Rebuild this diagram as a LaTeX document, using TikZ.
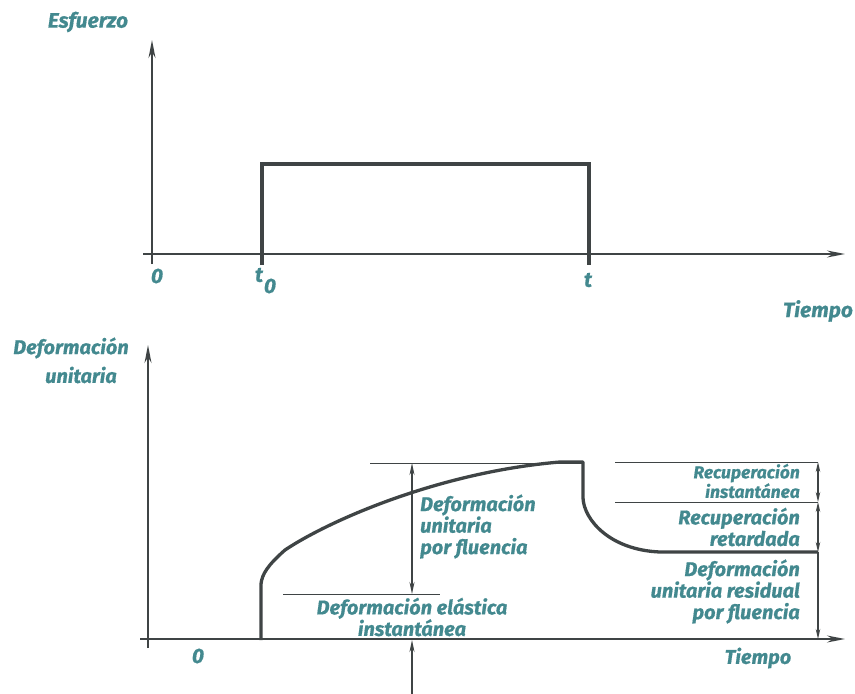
\documentclass[tikz,border=0pt]{standalone}
\usepackage{fontspec}
\setmainfont{Fira Sans}[BoldItalicFeatures={FakeBold=0.6}]
\usetikzlibrary{arrows.meta}
\definecolor{ink}{HTML}{3F4445}
\definecolor{lbl}{HTML}{43898F}
\begin{document}
\begin{tikzpicture}[x=1pt,y=-1pt,
  axisline/.style={ink,line width=1.5pt,-{Stealth[length=18pt,width=7pt]}},
  thinline/.style={ink,line width=1pt},
  curveline/.style={ink,line width=3.3pt,line join=round},
  dimline/.style={ink,line width=1.5pt,{Stealth[length=12pt,width=5pt]}-{Stealth[length=12pt,width=5pt]}},
  dimend/.style={ink,line width=1.5pt,-{Stealth[length=12pt,width=5pt]}},
  txt/.style={text=lbl,font=\fontsize{20}{21.5}\selectfont\bfseries\itshape,inner sep=0pt},
  bigtxt/.style={text=lbl,font=\fontsize{21}{22}\selectfont\bfseries\itshape,inner sep=0pt},
  smalltxt/.style={text=lbl,font=\fontsize{17.5}{18}\selectfont\bfseries\itshape,inner sep=0pt}]
\useasboundingbox (0,0) rectangle (855,694);

% ---- stress vs. time ----
\coordinate (s0) at (152,264);
\coordinate (sy) at (152,40);
\coordinate (sx0) at (143,254);
\coordinate (sx) at (845,254);
\draw[axisline] (s0) -- (sy);
\draw[axisline] (sx0) -- (sx);
\coordinate (p1) at (262,265);
\coordinate (p2) at (262,164);
\coordinate (p3) at (589,164);
\coordinate (p4) at (589,265);
\draw[curveline,line join=miter] (p1) -- (p2) -- (p3) -- (p4);

\node[bigtxt] (lesf) at (88,22) {Esfuerzo};
\node[bigtxt] (lz1) at (157,276) {0};
\node[bigtxt] (lt0) at (259,275) {t};
\node[bigtxt] (lt0s) at (270,286) {0};
\node[bigtxt] (lt) at (588,280) {t};
\node[bigtxt] (ltie1) at (818,311) {Tiempo};

% ---- strain vs. time ----
\coordinate (e0) at (148,648);
\coordinate (ey) at (148,345);
\coordinate (ex0) at (140,639);
\coordinate (ex) at (845,639);
\draw[axisline] (e0) -- (ey);
\draw[axisline] (ex0) -- (ex);

\coordinate (c0) at (261,640);
\coordinate (c1) at (261,584);
\coordinate (c2) at (285,550);
\coordinate (c3) at (560,462);
\coordinate (c4) at (583,462);
\coordinate (c5) at (583,498);
\coordinate (c6) at (660,552);
\coordinate (c7) at (818,552);
\draw[curveline] (c0) -- (c1) .. controls (262,574) and (268,565) .. (c2)
  .. controls (330,520) and (440,472) .. (c3) -- (c4) -- (c5)
  .. controls (584,520) and (610,550) .. (c6) -- (c7);

% creep dimension on the loading branch
\coordinate (gA1) at (370,463);
\coordinate (gA2) at (583,463);
\coordinate (gB1) at (283,594);
\coordinate (gB2) at (440,594);
\draw[thinline] (gA1) -- (gA2);
\draw[thinline] (gB1) -- (gB2);
\coordinate (dA) at (412,463);
\coordinate (dB) at (412,594);
\draw[dimline] (dA) -- (dB);
\coordinate (dC) at (412,694);
\coordinate (dD) at (412,640);
\draw[dimend] (dC) -- (dD);

% recovery dimensions
\coordinate (r1a) at (615,462);
\coordinate (r1b) at (818,462);
\coordinate (r2a) at (615,502);
\coordinate (r2b) at (818,502);
\coordinate (r4) at (818,639);
\draw[thinline] (r1a) -- (r1b);
\draw[thinline] (r2a) -- (r2b);
\draw[dimline,line width=1.3pt,{Stealth[length=10pt,width=4.5pt]}-{Stealth[length=10pt,width=4.5pt]}] (r1b) -- (r2b);
\draw[dimline,line width=1.3pt,{Stealth[length=10pt,width=4.5pt]}-{Stealth[length=10pt,width=4.5pt]}] (r2b) -- (c7);
\draw[dimend,line width=1.3pt,-{Stealth[length=10pt,width=4.5pt]}] (c7) -- (r4);

\node[txt] (ldef1) at (71,348) {Deformación};
\node[txt] (ldef2) at (81,375) {unitaria};
\node[bigtxt] (lz2) at (198,656) {0};
\node[txt] (ltie2) at (758,658) {Tiempo};
\node[txt,anchor=west,align=left] (lcreep) at (420,526.5) {Deformación\\unitaria\\por fluencia};
\node[txt,align=center] (lelas) at (412,617) {Deformación elástica\\instantánea};
\node[smalltxt,anchor=east,align=right] (lrec1) at (800,481) {Recuperación\\instantánea};
\node[txt,anchor=east,align=right] (lrec2) at (800,527) {Recuperación\\retardada};
\node[txt,anchor=east,align=right] (lres) at (800,591.5) {Deformación\\unitaria residual\\por fluencia};
\end{tikzpicture}
\end{document}
